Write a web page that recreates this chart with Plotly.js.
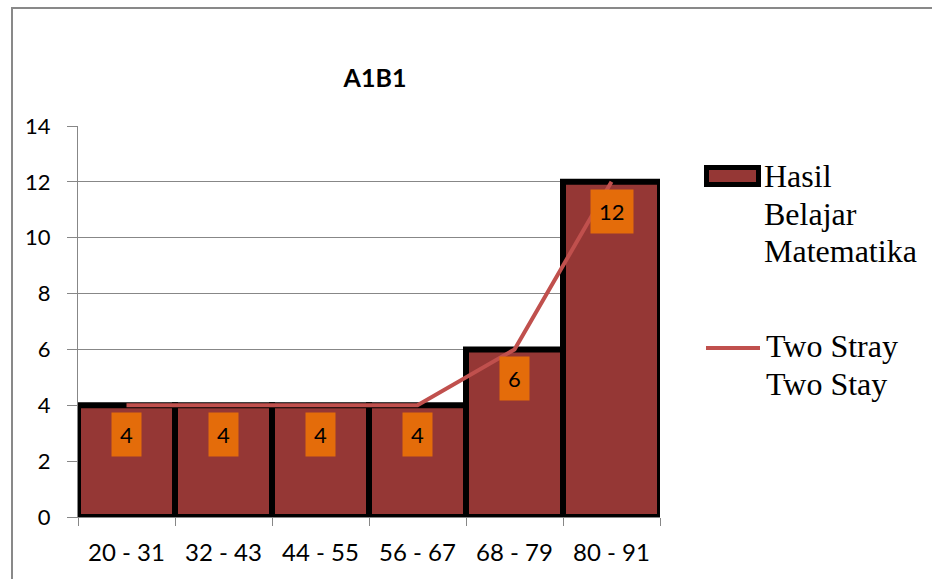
<!DOCTYPE html>
<html>
<head>
<meta charset="utf-8">
<script src="https://cdn.plot.ly/plotly-3.0.1.min.js"></script>
<style>
  html, body { margin: 0; padding: 0; background: #ffffff; }
  #chart { width: 932px; height: 579px; }
</style>
</head>
<body>
<div id="chart"></div>
<script>
// Score intervals and frequencies for class A1B1
const categories = ['20 - 31', '32 - 43', '44 - 55', '56 - 67', '68 - 79', '80 - 91'];
const frequencies = [4, 4, 4, 4, 6, 12];
const trendValues = [4, 4, 4, 4, 6, 12];
const yTicks = [0, 2, 4, 6, 8, 10, 12, 14];
const barName = ['Hasil', 'Belajar', 'Matematika'];
const lineName = ['Two Stray', 'Two Stay'];
const chartTitle = 'A1B1';

const BAR_FILL = '#953735';
const LINE_RED = '#C0504D';
const LABEL_BG = '#E46C0A';
const GRID = '#878787';
const SANS = 'Lato, Carlito, sans-serif';

// plot area in pixels: left 78, right 660, top 126, bottom 517
const L = 78, R = 660, T = 126, B = 517, W = 932, H = 579;
const px2x = p => (p - L) / (R - L);
const px2y = p => (B - p) / (B - T);

const bars = {
  type: 'bar',
  x: categories,
  y: frequencies,
  marker: { color: BAR_FILL, line: { color: '#000000', width: 6 } },
  showlegend: false,
  hoverinfo: 'x+y'
};

const trend = {
  type: 'scatter',
  mode: 'lines',
  x: categories,
  y: trendValues,
  line: { color: LINE_RED, width: 4 },
  showlegend: false,
  hoverinfo: 'x+y'
};

// value labels on orange boxes just inside the top of each bar
const valueLabels = categories.map((c, i) => ({
  x: c, y: frequencies[i], xref: 'x', yref: 'y',
  text: String(frequencies[i]),
  showarrow: false, yanchor: 'top', yshift: -7,
  bgcolor: LABEL_BG, borderpad: 8,
  font: { family: SANS, size: 22, color: '#000000' }
}));

// hand-drawn legend to the right of the plot
const legendFont = { family: '"Liberation Serif", "Times New Roman", serif', size: 32, color: '#000000' };
const legendText = [];
barName.forEach((t, i) => legendText.push({
  x: px2x(762), y: px2y(176 + i * 37.5), xref: 'paper', yref: 'paper',
  text: t, showarrow: false, xanchor: 'left', yanchor: 'middle', font: legendFont
}));
lineName.forEach((t, i) => legendText.push({
  x: px2x(764), y: px2y(346 + i * 38), xref: 'paper', yref: 'paper',
  text: t, showarrow: false, xanchor: 'left', yanchor: 'middle', font: legendFont
}));

const shapes = [
  // outer chart frame
  { type: 'rect', xref: 'paper', yref: 'paper',
    x0: px2x(12), x1: px2x(960), y0: px2y(600), y1: px2y(8),
    line: { color: '#898989', width: 2 }, fillcolor: 'rgba(0,0,0,0)', layer: 'below' },
  // legend key for bars
  { type: 'rect', xref: 'paper', yref: 'paper',
    x0: px2x(706.5), x1: px2x(758.5), y0: px2y(184.5), y1: px2y(167.5),
    line: { color: '#000000', width: 5 }, fillcolor: BAR_FILL },
  // legend key for line
  { type: 'line', xref: 'paper', yref: 'paper',
    x0: px2x(706), x1: px2x(760), y0: px2y(348), y1: px2y(348),
    line: { color: LINE_RED, width: 4 } }
];

const layout = {
  width: W, height: H,
  margin: { l: L, r: W - R, t: T, b: H - B, pad: 0 },
  paper_bgcolor: '#ffffff', plot_bgcolor: '#ffffff',
  bargap: 0,
  title: {
    text: '<b>' + chartTitle + '</b>',
    font: { family: SANS, size: 25, color: '#000000' },
    x: (L + 0.5 * (R - L) + 6) / W, xanchor: 'center',
    y: 1 - 78 / H, yanchor: 'middle'
  },
  xaxis: {
    type: 'category',
    showgrid: false,
    showline: true, linecolor: GRID, linewidth: 1,
    ticks: 'outside', tickson: 'boundaries', ticklen: 8, tickcolor: GRID,
    ticklabelstandoff: 14,
    tickfont: { family: SANS, size: 24, color: '#000000' },
    fixedrange: true
  },
  yaxis: {
    range: [0, 14],
    tickvals: yTicks,
    showgrid: true, gridcolor: GRID, gridwidth: 1,
    zeroline: false,
    showline: true, linecolor: GRID, linewidth: 1,
    ticks: 'outside', ticklen: 10, tickcolor: GRID,
    ticklabelstandoff: 12,
    tickfont: { family: SANS, size: 22, color: '#000000' },
    fixedrange: true
  },
  shapes: shapes,
  annotations: valueLabels.concat(legendText),
  showlegend: false
};

Plotly.newPlot('chart', [bars, trend], layout, { displayModeBar: false, staticPlot: true });
</script>
</body>
</html>
